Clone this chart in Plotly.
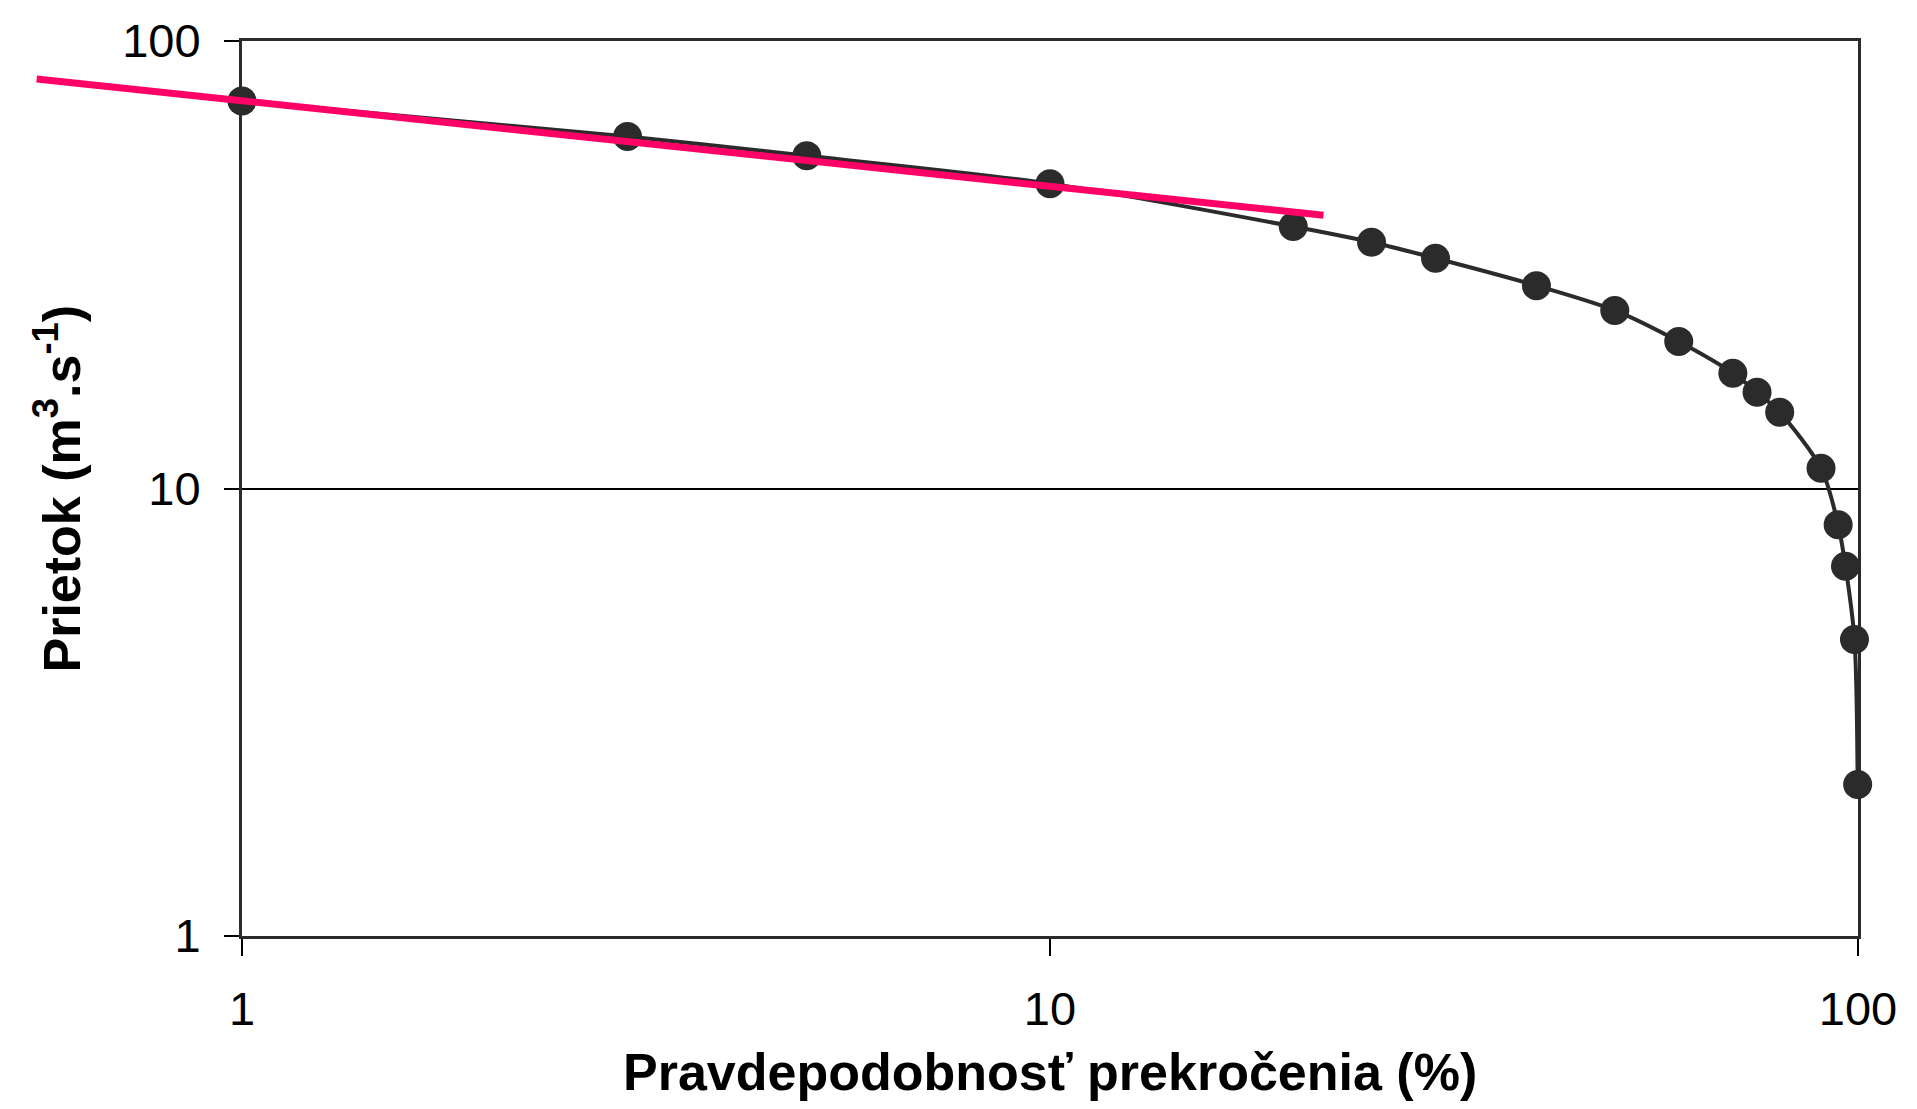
import plotly.graph_objects as go

# Exceedance probability (%) and discharge (m3/s) of the duration curve
exceedance_pct = [1, 3, 5, 10, 20, 25, 30, 40, 50, 60, 70, 75, 80, 90, 94.5, 96.5, 99, 99.9]
discharge = [73.4, 61.2, 55.4, 48.0, 38.5, 35.5, 32.7, 28.4, 25.0, 21.3, 18.1, 16.4,
             14.8, 11.1, 8.3, 6.7, 4.6, 2.18]

# Power-law trend line fitted to the high-flow part (end points)
trend_x = [0.557, 21.8]
trend_y = [82.2, 40.8]

x_ticks = [1, 10, 100]
x_tick_text = ["1", "10", "100"]
y_ticks = [1, 10, 100]
y_tick_text = ["1", "10", "100"]

W, H = 1917, 1109
PLOT_L, PLOT_R, PLOT_T, PLOT_B = 242, 1858, 41, 936
TREND_L = 0  # the trend line is allowed to run left of the plot frame

INK = "#2b2b2b"
PINK = "#ff0066"
FONT = "Liberation Sans, Arial, sans-serif"

x_dom = [PLOT_L / W, PLOT_R / W]
y_dom = [1 - PLOT_B / H, 1 - PLOT_T / H]
x_range = [0, 2]
y_range = [0, 2]
# second (hidden) x axis shares the log scale of the main one but spans a wider domain
px_per_dec = (PLOT_R - PLOT_L) / (x_range[1] - x_range[0])
x2_range = [x_range[1] - (PLOT_R - TREND_L) / px_per_dec, x_range[1]]

fig = go.Figure()

fig.add_trace(go.Scatter(
    x=exceedance_pct, y=discharge,
    mode="lines+markers",
    line=dict(color=INK, width=4, shape="spline", smoothing=0.8),
    marker=dict(color=INK, size=29, symbol="circle"),
    cliponaxis=False,
    showlegend=False,
    xaxis="x", yaxis="y",
))

fig.add_trace(go.Scatter(
    x=trend_x, y=trend_y,
    mode="lines",
    line=dict(color=PINK, width=7),
    showlegend=False,
    xaxis="x2", yaxis="y2",
))

axis_font = dict(family=FONT, size=47, color="black")

fig.update_layout(
    width=W, height=H, autosize=False,
    margin=dict(l=0, r=0, t=0, b=0, pad=0),
    paper_bgcolor="white",
    plot_bgcolor="rgba(0,0,0,0)",
    xaxis=dict(
        type="log", domain=x_dom, range=x_range, anchor="y",
        tickvals=x_ticks, ticktext=x_tick_text, tickfont=axis_font,
        ticks="outside", ticklen=17, tickwidth=2, tickcolor="black",
        showline=True, linecolor=INK, linewidth=3, mirror=True,
        showgrid=False, zeroline=False, layer="below traces",
        ticklabelstandoff=13, automargin=False,
    ),
    yaxis=dict(
        type="log", domain=y_dom, range=y_range, anchor="x",
        tickvals=y_ticks, ticktext=y_tick_text, tickfont=axis_font,
        ticks="outside", ticklen=15, tickwidth=2, tickcolor="black",
        showline=True, linecolor=INK, linewidth=3, mirror=True,
        showgrid=True, gridcolor="black", gridwidth=2,
        zeroline=False, layer="below traces",
        ticklabelstandoff=14, automargin=False,
    ),
    xaxis2=dict(
        type="log", domain=[TREND_L / W, PLOT_R / W], range=x2_range,
        anchor="y2", visible=False, automargin=False,
    ),
    yaxis2=dict(
        type="log", domain=y_dom, range=y_range, anchor="x2", visible=False,
        automargin=False,
    ),
    annotations=[
        dict(
            text="Pravdepodobnosť prekročenia (%)",
            xref="paper", yref="paper",
            x=(PLOT_L + PLOT_R) / 2 / W, y=1 - 1072 / H,
            xanchor="center", yanchor="middle", showarrow=False,
            font=dict(family=FONT, size=52, color="black", weight="bold"),
        ),
        dict(
            text="Prietok (m<sup>3</sup>.s<sup>-1</sup>)",
            xref="paper", yref="paper",
            x=58 / W, y=1 - (PLOT_T + PLOT_B) / 2 / H,
            xanchor="center", yanchor="middle", showarrow=False,
            textangle=-90,
            font=dict(family=FONT, size=52, color="black", weight="bold"),
        ),
    ],
)

fig.write_html("out.html")
